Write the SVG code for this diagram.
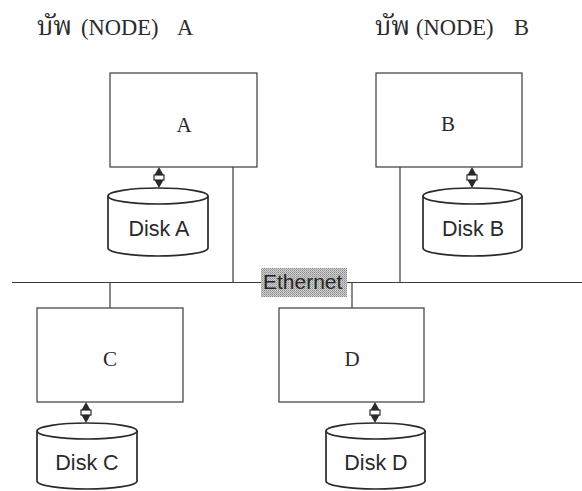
<svg xmlns="http://www.w3.org/2000/svg" xmlns:xlink="http://www.w3.org/1999/xlink" width="582" height="491" viewBox="0 0 582 491">
  <style>
    .box { fill: #ffffff; stroke: #3a3a3a; stroke-width: 1.2; }
    .disk { fill: #ffffff; stroke: #2a2a2a; stroke-width: 1.7; }
    .wire { fill: none; stroke: #3a3a3a; stroke-width: 1.2; }
    .title { font-family: "Liberation Serif", "Noto Serif Thai", "Noto Sans Thai", "DejaVu Serif", serif; font-size: 22.5px; fill: #2a2a2a; }
    .thai { font-size: 26px; }
    .lbl { font-family: "Liberation Serif", serif; font-size: 21px; fill: #2a2a2a; text-anchor: middle; }
    .dlbl { font-family: "Liberation Sans", Arial, sans-serif; font-size: 21.5px; fill: #2a2a2a; text-anchor: middle; }
    .eth { font-family: "Liberation Sans", Arial, sans-serif; font-size: 21px; fill: #262626; }
  </style>
  <defs>
    <pattern id="halftone" width="2" height="2" patternUnits="userSpaceOnUse">
      <rect width="2" height="2" fill="#cfcfcf"/>
      <rect width="1" height="1" fill="#8a8a8a"/>
      <rect x="1" y="1" width="1" height="1" fill="#a8a8a8"/>
    </pattern>
    <g id="dbl">
      <polygon points="0,0 -4.5,8 4.5,8" fill="#2a2a2a"/>
      <rect x="-5" y="8" width="10" height="5" fill="#ffffff" stroke="#2a2a2a" stroke-width="1.2"/>
      <polygon points="-4.5,13 4.5,13 0,21" fill="#2a2a2a"/>
    </g>
  </defs>
  <rect width="582" height="491" fill="#ffffff"/>

  <g id="titles">
    <text class="title" x="37" y="35"><tspan class="thai">บัพ</tspan><tspan x="81">(NODE)</tspan><tspan x="177">A</tspan></text>
    <text class="title" x="375" y="35"><tspan class="thai">บัพ</tspan><tspan x="416">(NODE)</tspan><tspan x="514">B</tspan></text>
  </g>

  <g id="connectors">
    <line class="wire" x1="12" y1="282.5" x2="582" y2="282.5"/>
    <line class="wire" x1="233" y1="167" x2="233" y2="282.5"/>
    <line class="wire" x1="400" y1="167" x2="400" y2="282.5"/>
    <line class="wire" x1="110" y1="282.5" x2="110" y2="308"/>
    <line class="wire" x1="352" y1="282.5" x2="352" y2="308"/>
    <use xlink:href="#dbl" transform="translate(159,167)"/>
    <use xlink:href="#dbl" transform="translate(472,167)"/>
    <use xlink:href="#dbl" transform="translate(86,402)"/>
    <use xlink:href="#dbl" transform="translate(375,402)"/>
  </g>

  <g id="ethernet">
    <rect x="261" y="268" width="86" height="29" fill="url(#halftone)"/>
    <text class="eth" x="263" y="289">Ethernet</text>
  </g>

  <g id="node-a">
    <rect class="box" x="110" y="73" width="147" height="94"/>
    <text class="lbl" x="184" y="132">A</text>
  </g>
  <g id="node-b">
    <rect class="box" x="376" y="73" width="146" height="94"/>
    <text class="lbl" x="448" y="131">B</text>
  </g>
  <g id="node-c">
    <rect class="box" x="37" y="308" width="146" height="94"/>
    <text class="lbl" x="110" y="366">C</text>
  </g>
  <g id="node-d">
    <rect class="box" x="279" y="308" width="145" height="94"/>
    <text class="lbl" x="352" y="366">D</text>
  </g>

  <g id="disk-a">
    <path class="disk" d="M108,196 L108,248 A50,8 0 0 0 208,248 L208,196"/>
    <ellipse class="disk" cx="158" cy="196" rx="50" ry="8"/>
    <text class="dlbl" x="159" y="236">Disk A</text>
  </g>
  <g id="disk-b">
    <path class="disk" d="M423,196 L423,248 A49.5,8 0 0 0 522,248 L522,196"/>
    <ellipse class="disk" cx="472.5" cy="196" rx="49.5" ry="8"/>
    <text class="dlbl" x="473" y="236">Disk B</text>
  </g>
  <g id="disk-c">
    <path class="disk" d="M37,431 L37,481 A50,8 0 0 0 137,481 L137,431"/>
    <ellipse class="disk" cx="87" cy="431" rx="50" ry="8"/>
    <text class="dlbl" x="87" y="470">Disk C</text>
  </g>
  <g id="disk-d">
    <path class="disk" d="M326,431 L326,481 A49.5,8 0 0 0 425,481 L425,431"/>
    <ellipse class="disk" cx="375.5" cy="431" rx="49.5" ry="8"/>
    <text class="dlbl" x="376" y="470">Disk D</text>
  </g>
</svg>
